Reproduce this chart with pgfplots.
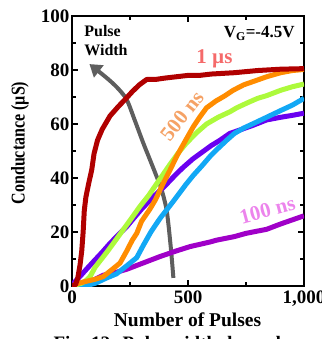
\documentclass[border=0pt]{standalone}
\usepackage{fontspec}
\setmainfont{Liberation Serif}
\usepackage{pgfplots}
\pgfplotsset{compat=1.18}
\usetikzlibrary{arrows.meta}
\definecolor{cRed}{HTML}{B00000}
\definecolor{cOrange}{HTML}{FF8C00}
\definecolor{cGreen}{HTML}{ADFA3C}
\definecolor{cBlue}{HTML}{12A8F5}
\definecolor{cViolet}{HTML}{6A00F0}
\definecolor{cMag}{HTML}{A000C8}
\definecolor{cGray}{HTML}{5E5E5E}
\definecolor{lRed}{HTML}{F56A6A}
\definecolor{lOrange}{HTML}{F5A266}
\definecolor{lMag}{HTML}{EC84EC}
\begin{document}
\begin{tikzpicture}
\begin{axis}[
  at={(0pt,0pt)}, anchor=south west,
  scale only axis, width=232pt, height=270pt,
  xmin=0, xmax=1000, ymin=0, ymax=100,
  xtick={0,500,1000}, minor xtick={250,750},
  ytick={0,20,40,60,80,100}, minor ytick={10,30,50,70,90},
  tick align=inside,
  major tick length=6pt, minor tick length=4pt,
  axis line style={line width=1.6pt},
  every tick/.style={line width=1.3pt, black},
  /pgf/number format/assume math mode=true,
  tick label style={font=\fontsize{19}{19}\selectfont\bfseries},
  xticklabel style={yshift=-1pt},
  yticklabel style={xshift=1pt},
  clip=true,
]
% annotation arrow (pulse width)
\addplot[cGray, line width=4pt, smooth, -{Triangle[width=15pt,length=12pt]}] coordinates {
(437,3) (425,15) (408,28) (385,36) (365,40.5) (335,47) (307,53) (270,61.5) (236,69) (200,73) (164,76) (125,78.8) (75,82.2)
};
% 100 ns
\addplot[cMag, line width=5pt, line join=round] coordinates {
(0,0) (50,0.8) (100,2.5) (135,4) (200,5.3) (236,6.2) (300,8.3) (379,10.9) (450,13) (509,14.6) (595,16.3) (624,17) (700,18.3) (750,19.5) (839,21) (900,23) (950,24.5) (1000,26)
};
% violet
\addplot[cViolet, line width=5pt, line join=round] coordinates {
(0,0.5) (34,3.5) (60,6) (92,9) (130,12.5) (164,15.8) (200,19) (236,22) (270,25.5) (300,28.5) (350,33) (400,37) (422,39) (450,41.5) (480,44) (520,47) (552,49) (600,52) (638,54) (680,56.5) (724,57.8) (780,59.5) (839,61.5) (900,62.5) (950,63.2) (1000,64)
};
% blue
\addplot[cBlue, line width=5pt, line join=round] coordinates {
(0,0) (50,0) (78,0.5) (100,1) (150,3) (192,4.5) (236,7.5) (279,10.5) (307,15) (340,20) (379,25) (420,29.5) (451,33) (490,37.5) (523,41) (560,44.5) (595,48) (630,51) (667,54) (700,56.5) (740,58.5) (790,60.5) (839,62.5) (900,65) (950,67) (1000,69.5)
};
% green
\addplot[cGreen, line width=5pt, line join=round] coordinates {
(0,0) (40,1) (60,2) (78,3.5) (100,7) (150,12.5) (180,16) (222,21) (260,25.5) (293,29.5) (330,33.5) (350,36) (390,41) (422,45) (460,49.5) (494,53) (540,57) (580,60) (630,62.5) (680,64.5) (710,66) (760,68) (800,69.5) (839,70.5) (900,72.5) (950,73.8) (1000,74.8)
};
% orange 500 ns
\addplot[cOrange, line width=5pt, line join=round] coordinates {
(0,0) (20,0.8) (50,1.5) (100,2.5) (135,3.5) (164,5.5) (207,8.5) (236,13) (260,17) (279,19.5) (300,24) (336,28.5) (360,32) (393,38) (420,42.5) (451,48) (490,54) (523,59) (550,62.5) (580,66) (620,68.5) (660,70.5) (695,72.5) (740,74.5) (790,76) (839,77.5) (900,79) (950,79.8) (1000,80.2)
};
% red 1 us
\addplot[cRed, line width=5pt, line join=round] coordinates {
(0,0) (15,0.5) (25,3) (35,8) (42,13) (48,20) (53,28) (60,33) (72,38) (85,43) (95,49) (110,54) (130,58) (164,63) (200,66.5) (228,69) (260,72) (290,74.5) (322,76.5) (360,76.5) (400,77) (450,77.5) (500,78) (550,78) (600,78.5) (700,79) (800,79.8) (900,80.3) (1000,80.5)
};
\node[anchor=west, align=left, font=\fontsize{16}{19}\selectfont\bfseries] at (axis cs:38,90.8) {Pulse\\Width};
\node[anchor=east, font=\fontsize{17}{17}\selectfont\bfseries] at (axis cs:975,93.5) {V\textsubscript{G}=-4.5V};
\node[lRed, inner sep=0pt, font=\fontsize{21}{21}\selectfont\bfseries] at (axis cs:614,84.3) {1 µs};
\node[lOrange, inner sep=0pt, rotate=52, font=\fontsize{21}{21}\selectfont\bfseries] at (axis cs:474,63) {500 ns};
\node[lMag, inner sep=0pt, rotate=15, font=\fontsize{21}{21}\selectfont\bfseries] at (axis cs:842,28) {100 ns};
\end{axis}
\node[rotate=90, font=\fontsize{19.5}{19.5}\selectfont\bfseries] at (-52pt,143pt) {\scalebox{0.82}[1]{Conductance (µS)}};
\node[font=\fontsize{19.5}{19.5}\selectfont\bfseries] at (115.5pt,-34pt) {Number of Pulses};
\node[anchor=base west, font=\fontsize{19}{19}\selectfont\bfseries] at (-22pt,-63pt) {Fig. 12: Pulse width dependence};
\pgfresetboundingbox
\path (-72pt,-53pt) rectangle (249pt,286pt);
\end{tikzpicture}
\end{document}
